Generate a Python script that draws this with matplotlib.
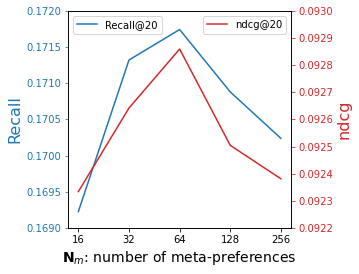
import matplotlib
matplotlib.use("Agg")
import matplotlib.pyplot as plt

x_labels = ["16", "32", "64", "128", "256"]
recall = [0.16923, 0.17132, 0.17174, 0.17088, 0.17024]
ndcg = [0.092335, 0.092642, 0.092859, 0.092505, 0.092382]

DPI = 72
fig = plt.figure(figsize=(359 / DPI, 274 / DPI), dpi=DPI)
ax = fig.add_axes([0.19, 0.1668, 0.6206, 0.7942])
xs = list(range(len(x_labels)))
ax.plot(xs, recall, color="tab:blue", lw=1.5, label="Recall@20")
ax.set_ylim(0.1690, 0.1720)
ax.set_yticks([0.1690, 0.1695, 0.1700, 0.1705, 0.1710, 0.1715, 0.1720])
ax.set_yticklabels([f"{v:.4f}" for v in ax.get_yticks()])
ax.tick_params(axis="y", colors="tab:blue", labelsize=10)
ax.tick_params(axis="x", labelsize=10)
ax.set_ylabel("Recall", color="tab:blue", fontsize=16)
ax.set_xticks(xs)
ax.set_xticklabels(x_labels)
ax.set_xlabel(r"$\mathbf{N}_m$: number of meta-preferences", fontsize=14)
ax.legend(loc="upper left", fontsize=10)

ax2 = ax.twinx()
ax2.plot(xs, ndcg, color="tab:red", lw=1.5, label="ndcg@20")
ax2.set_ylim(0.0922, 0.0930)
ax2.set_yticks([0.0922 + 0.0001 * i for i in range(9)])
ax2.set_yticklabels([f"{0.0922 + 0.0001 * i:.4f}" for i in range(9)])
ax2.tick_params(axis="y", colors="tab:red", labelsize=10)
ax2.set_ylabel("ndcg", color="tab:red", fontsize=16)
ax2.legend(loc="upper right", fontsize=10)

fig.savefig("out.png", dpi=DPI)
